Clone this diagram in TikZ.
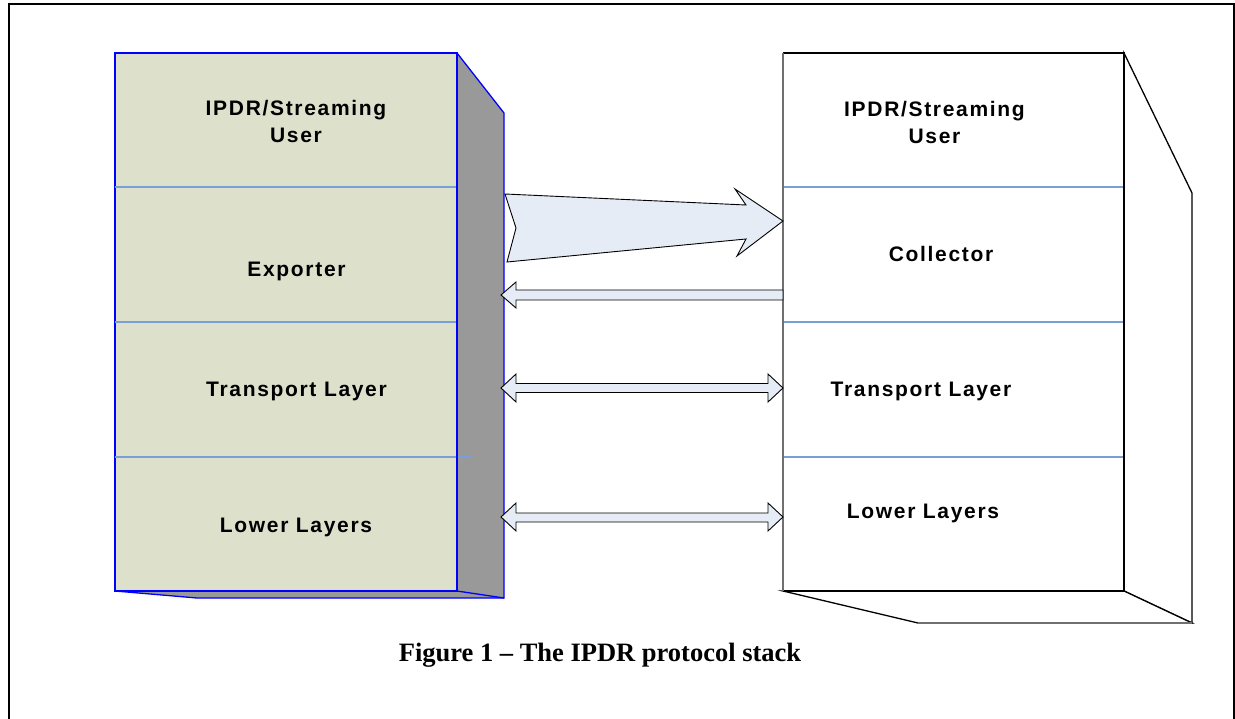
\documentclass[tikz,border=0pt]{standalone}
\usepackage{fontspec}
\newfontfamily\lblfont[LetterSpace=8]{Liberation Sans}
\newfontfamily\capfont{Liberation Serif}
\definecolor{stackfill}{HTML}{DDE0CB}
\definecolor{sidegray}{HTML}{999999}
\definecolor{edgeblue}{HTML}{0000FF}
\definecolor{divline}{HTML}{7A9ED6}
\definecolor{arrowfill}{HTML}{E6ECF6}
\definecolor{rightedge}{HTML}{707070}
\tikzset{
  lbl/.style={font=\lblfont\bfseries\fontsize{21}{26.5}\selectfont, align=center, inner sep=0pt},
  divider/.style={draw=divline, line width=1.2pt},
  blockarrow/.style={draw=black, fill=arrowfill, line width=0.9pt, line join=miter},
  leftedge/.style={draw=edgeblue, line width=1.3pt},
  rightbox/.style={draw=black, line width=1.3pt, fill=white}
}
\begin{document}
\begin{tikzpicture}[x=1pt,y=-1pt]
\useasboundingbox (0,0) rectangle (1235,719);
% outer frame (no bottom edge visible)
\draw[line width=2pt, black] (8.5,725) -- (8.5,4.5) -- (1233.5,4.5) -- (1233.5,725);

% ---------------- left stack ----------------
\coordinate (LTL) at (115,53);
\coordinate (LTR) at (457,53);
\coordinate (LBL) at (115,591);
\coordinate (LBR) at (457,591);
\coordinate (LST) at (504,113);
\coordinate (LSB) at (504,598);
\coordinate (LBB) at (197,598);
\fill[sidegray] (LTR) -- (LST) -- (LSB) -- (LBB) -- (LBL) -- (LBR) -- cycle;
\draw[leftedge] (LTR) -- (LST) -- (LSB) -- (LBB) -- (LBL);
\draw[leftedge] (LBR) -- (LSB);
\draw[leftedge, fill=stackfill] (LTL) rectangle (LBR);
\draw[divider] (115,187) -- (457,187);
\draw[divider] (115,322) -- (457,322);
\draw[divider] (115,457) -- (472,457);
\draw[edgeblue, line width=1.3pt] (LTR) -- (LBR);

\node[lbl] (lu) at (296,121.5) {IPDR/Streaming\\User};
\node[lbl, anchor=base] (lex) at (296.5,277) {Exporter};
\node[lbl, anchor=base] (ltr) at (296.5,396) {Transport Layer};
\node[lbl, anchor=base] (llo) at (296,532) {Lower Layers};

% ---------------- right stack ----------------
\coordinate (RTL) at (783,53);
\coordinate (RTR) at (1124,53);
\coordinate (RBL) at (783,591);
\coordinate (RBR) at (1124,591);
\coordinate (RST) at (1192,193);
\coordinate (RSB) at (1192,623);
\coordinate (RBB) at (918,623);
\filldraw[rightbox] (RTR) -- (RST) -- (RSB) -- (RBR) -- cycle;
\filldraw[rightbox] (RBL) -- (RBB) -- (RSB) -- (RBR) -- cycle;
\draw[rightedge, line width=1.3pt] (RBB) -- (RSB);
\fill[white] (RTL) rectangle (RBR);
\draw[divider] (783,187) -- (1124,187);
\draw[divider] (783,322) -- (1124,322);
\draw[divider] (783,457) -- (1124,457);
\draw[black, line width=1.3pt] (RTL) -- (RTR) -- (RBR) -- (RBL);
\draw[rightedge, line width=1.3pt] (RBL) -- (RTL);

\node[lbl] (ru) at (934.5,122.5) {IPDR/Streaming\\User};
\node[lbl, anchor=base] (rco) at (941,262) {Collector};
\node[lbl, anchor=base] (rtr) at (921,397) {Transport Layer};
\node[lbl, anchor=base] (rlo) at (923,518) {Lower Layers};

% ---------------- arrows ----------------
% big export arrow
\draw[blockarrow] (505,194) -- (746,205) -- (735,189) -- (783,221) -- (737,256)
  -- (746,239) -- (507,262) -- (516,228) -- cycle;
% collector -> exporter
\draw[blockarrow] (783,290) -- (516,290) -- (516,282) -- (501,295) -- (516,308)
  -- (516,300) -- (783,300) -- cycle;
% transport double arrow
\draw[blockarrow] (516,383.5) -- (768,383.5) -- (768,374) -- (783,388) -- (768,402)
  -- (768,392.5) -- (516,392.5) -- (516,402) -- (501,388) -- (516,374) -- cycle;
% lower layers double arrow
\draw[blockarrow] (516,513) -- (768,513) -- (768,503) -- (783,517) -- (768,531)
  -- (768,522) -- (516,522) -- (516,531) -- (501,517) -- (516,503) -- cycle;

% caption
\node[font=\capfont\bfseries\fontsize{26.5}{30}\selectfont, anchor=base, inner sep=0pt]
  (cap) at (600,661) {Figure 1 – The IPDR protocol stack};
\end{tikzpicture}
\end{document}
